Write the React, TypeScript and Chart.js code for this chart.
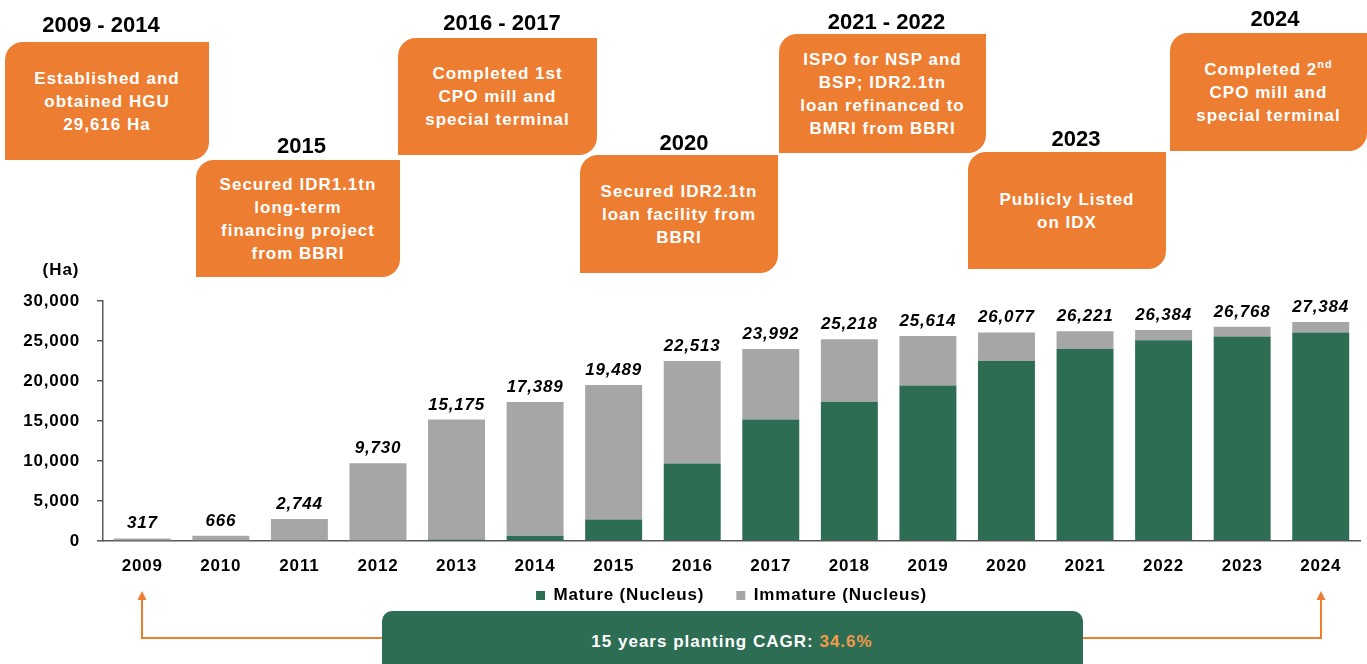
import React, { useEffect, useRef } from 'react';
import { Chart, registerables } from 'chart.js';

Chart.register(...registerables);

// ---------- data ----------
const years = ['2009', '2010', '2011', '2012', '2013', '2014', '2015', '2016', '2017', '2018', '2019', '2020', '2021', '2022', '2023', '2024'];
const totalArea = [317, 666, 2744, 9730, 15175, 17389, 19489, 22513, 23992, 25218, 25614, 26077, 26221, 26384, 26768, 27384];
const matureArea = [0, 0, 0, 0, 200, 650, 2700, 9700, 15200, 17400, 19450, 22500, 24000, 25100, 25550, 26050];
const immatureArea = [317, 666, 2744, 9730, 14975, 16739, 16789, 12813, 8792, 7818, 6164, 3577, 2221, 1284, 1218, 1334];
const seriesNames = ['Mature (Nucleus)', 'Immature (Nucleus)'];
const yMax = 30000;
const yStep = 5000;
const unitLabel = '(Ha)';

const milestoneYears = ['2009 - 2014', '2015', '2016 - 2017', '2020', '2021 - 2022', '2023', '2024'];
const milestoneLines: string[][] = [
  ['Established and', 'obtained HGU', '29,616 Ha'],
  ['Secured IDR1.1tn', 'long-term', 'financing project', 'from BBRI'],
  ['Completed 1st', 'CPO mill and', 'special terminal'],
  ['Secured IDR2.1tn', 'loan facility from', 'BBRI'],
  ['ISPO for NSP and', 'BSP; IDR2.1tn', 'loan refinanced to', 'BMRI from BBRI'],
  ['Publicly Listed', 'on IDX'],
  ['Completed 2^nd', 'CPO mill and', 'special terminal'],
];
const cagrLabel = '15 years planting CAGR: ';
const cagrValue = '34.6%';

// ---------- layout / style ----------
const W = 1367;
const H = 664;
const FONT = '"Liberation Sans", Arial, sans-serif';
const GREEN = '#2D6D54';
const GREY = '#A6A6A6';
const ORANGE = '#ED7D31';
const AXIS = '#595959';
const LEGEND_GAP = '    ';

const boxLayout = [
  { x: 5, y: 42, w: 204, h: 118, tx: 101, ty: 24.5 },
  { x: 196, y: 160, w: 204, h: 117, tx: 301.5, ty: 146 },
  { x: 398, y: 38, w: 199, h: 117, tx: 502, ty: 23 },
  { x: 580, y: 155, w: 198, h: 118, tx: 684, ty: 143 },
  { x: 779, y: 34, w: 207, h: 119, tx: 886.5, ty: 21.7 },
  { x: 968, y: 152, w: 198, h: 117, tx: 1076, ty: 139 },
  { x: 1170, y: 33, w: 197, h: 118, tx: 1275, ty: 19 },
];

const spacingPlugin = {
  id: 'spacing',
  beforeLayout(c: any) { c.ctx.letterSpacing = '0.8px'; },
  beforeDraw(c: any) { c.ctx.letterSpacing = '0.8px'; },
};

const totalsPlugin = {
  id: 'totals',
  afterDatasetsDraw(c: any) {
    const ctx = c.ctx;
    const meta = c.getDatasetMeta(1);
    ctx.save();
    ctx.font = `italic bold 17px ${FONT}`;
    ctx.fillStyle = '#000';
    ctx.textAlign = 'center';
    ctx.textBaseline = 'alphabetic';
    meta.data.forEach((el: any, i: number) => {
      ctx.fillText(totalArea[i].toLocaleString('en-US'), el.x, el.y - 10);
    });
    ctx.restore();
  },
};

function renderLine(line: string) {
  const idx = line.indexOf('^');
  if (idx < 0) return line;
  return (
    <>
      {line.slice(0, idx)}
      <sup style={{ fontSize: 11, lineHeight: 0, verticalAlign: 7 }}>{line.slice(idx + 1)}</sup>
    </>
  );
}

export default function App() {
  const ref = useRef<HTMLCanvasElement>(null);

  useEffect(() => {
    if (!ref.current) return;
    const chart = new Chart(ref.current, {
      type: 'bar',
      data: {
        labels: years,
        datasets: [
          { label: seriesNames[0], data: matureArea, backgroundColor: GREEN, barPercentage: 0.725, categoryPercentage: 1 },
          { label: seriesNames[1], data: immatureArea, backgroundColor: GREY, barPercentage: 0.725, categoryPercentage: 1 },
        ],
      },
      options: {
        responsive: false,
        animation: false,
        layout: { padding: { top: 301, left: 8, right: 7, bottom: 50 } },
        scales: {
          x: {
            stacked: true,
            grid: { display: false, drawTicks: false },
            border: { display: true, color: AXIS, width: 1.5 },
            ticks: { color: '#000', font: { family: FONT, size: 17, weight: 'bold' }, padding: 15, maxRotation: 0, autoSkip: false },
            afterFit(s: any) { s.height = 36; },
          },
          y: {
            stacked: true,
            min: 0,
            max: yMax,
            grid: { drawOnChartArea: false, drawTicks: true, tickLength: 6, color: AXIS, lineWidth: 1.5 },
            border: { display: true, color: AXIS, width: 1.5 },
            ticks: {
              stepSize: yStep,
              color: '#000',
              padding: 17,
              font: { family: FONT, size: 17, weight: 'bold' },
              callback: (v: any) => Number(v).toLocaleString('en-US'),
            },
            afterFit(s: any) { s.width = 95; },
          },
        },
        plugins: {
          legend: {
            position: 'bottom',
            fullSize: false,
            labels: {
              color: '#000',
              font: { family: FONT, size: 17, weight: 'bold' },
              boxWidth: 9,
              boxHeight: 9,
              padding: 10,
              generateLabels: (c: any) => {
                const items = Chart.defaults.plugins.legend.labels.generateLabels(c);
                return items.map((it: any, i: number) => (i < items.length - 1 ? { ...it, text: it.text + LEGEND_GAP } : it));
              },
            },
          },
          tooltip: { enabled: false },
        },
      },
      plugins: [spacingPlugin, totalsPlugin],
    } as any);
    return () => chart.destroy();
  }, []);

  return (
    <div style={{ position: 'absolute', left: 0, top: 0, width: W, height: H, overflow: 'hidden', background: '#fff', fontFamily: FONT }}>
      <canvas ref={ref} width={W} height={H} style={{ position: 'absolute', left: 0, top: 0, width: W, height: H }} />
      <div style={{ position: 'absolute', left: 61, top: 270, transform: 'translate(-50%,-50%)', fontSize: 17, fontWeight: 'bold', letterSpacing: 1, color: '#000', whiteSpace: 'nowrap' }}>{unitLabel}</div>
      {boxLayout.map((b, i) => (
        <React.Fragment key={i}>
          <div style={{ position: 'absolute', left: b.tx, top: b.ty, transform: 'translate(-50%,-50%)', fontSize: 22, fontWeight: 'bold', color: '#000', whiteSpace: 'nowrap' }}>{milestoneYears[i]}</div>
          <div style={{ position: 'absolute', left: b.x, top: b.y, width: b.w, height: b.h, background: ORANGE, borderRadius: '18px 0 18px 0', display: 'flex', flexDirection: 'column', alignItems: 'center', justifyContent: 'center', color: '#fff', fontSize: 17, fontWeight: 'bold', letterSpacing: 1, lineHeight: '23px', textAlign: 'center' }}>
            {milestoneLines[i].map((l, j) => (<div key={j} style={{ whiteSpace: 'nowrap' }}>{renderLine(l)}</div>))}
          </div>
        </React.Fragment>
      ))}
      <svg width={W} height={H} style={{ position: 'absolute', left: 0, top: 0, pointerEvents: 'none' }}>
        <polyline points="382,638 142,638 142,599" fill="none" stroke={ORANGE} strokeWidth={2} />
        <polygon points="142,591 137.5,600 146.5,600" fill={ORANGE} />
        <polyline points="1083,638 1321,638 1321,599" fill="none" stroke={ORANGE} strokeWidth={2} />
        <polygon points="1321,591 1316.5,600 1325.5,600" fill={ORANGE} />
      </svg>
      <div style={{ position: 'absolute', left: 382, top: 611, width: 701, height: 70, background: GREEN, borderRadius: 10 }} />
      <div style={{ position: 'absolute', left: 732, top: 642, transform: 'translate(-50%,-50%)', fontSize: 17, fontWeight: 'bold', letterSpacing: 1, color: '#fff', whiteSpace: 'nowrap' }}>
        {cagrLabel}<span style={{ color: '#F29A4A' }}>{cagrValue}</span>
      </div>
    </div>
  );
}
